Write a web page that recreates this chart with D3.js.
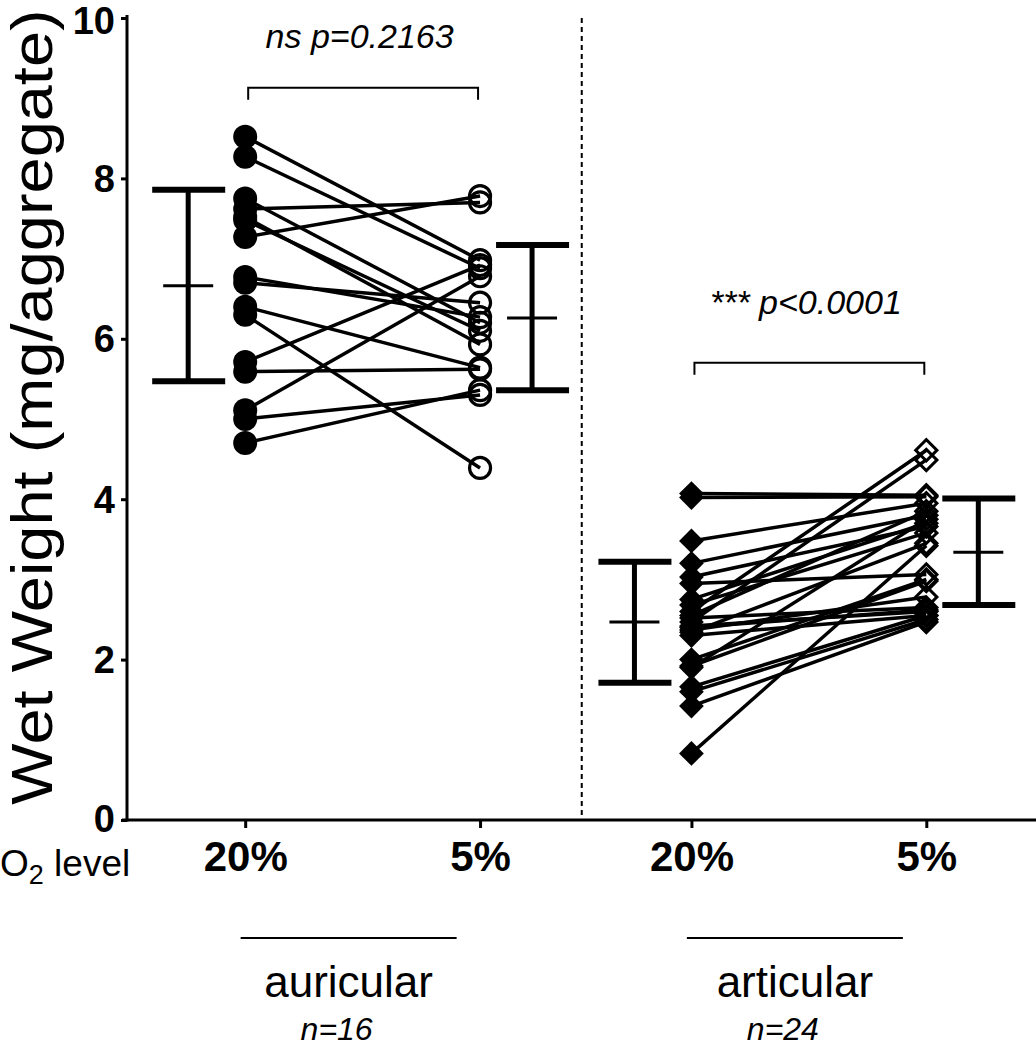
<!DOCTYPE html>
<html><head><meta charset="utf-8">
<script src="https://cdn.jsdelivr.net/npm/d3@7"></script>
<style>body{margin:0;background:#fff}svg{display:block}</style>
</head><body>
<svg id="c" width="1036" height="1050"></svg>
<script>
// ---------- data ----------
const groups = ["auricular", "articular"];
const o2Levels = ["20%", "5%"];
const groupN = ["n=16", "n=24"];
const yTicks = [0, 2, 4, 6, 8, 10];
const yLabel = "Wet Weight (mg/aggregate)";
const pLabels = ["ns p=0.2163", "*** p<0.0001"];
const bracketLevels = [9.13, 5.70];

// paired values: index i at 20% is joined to index i at 5%
const auricular20 = [8.52, 8.27, 7.75, 7.62, 7.52, 7.48, 7.27, 6.77, 6.70, 6.40, 6.30, 5.71, 5.59, 5.11, 5.00, 4.70];
const auricular5  = [6.98, 6.88, 6.20, 7.70, 5.93, 6.10, 7.78, 6.27, 6.45, 5.64, 4.39, 6.92, 5.62, 6.78, 5.30, 5.36];
const articular20 = [4.07, 4.02, 3.48, 3.20, 3.03, 2.95, 2.75, 2.68, 2.60, 2.52, 2.47, 2.42, 2.40, 2.37, 2.34, 2.30, 2.00, 1.92, 1.90, 1.66, 1.60, 1.42, 0.83, 2.55];
const articular5  = [4.05, 4.03, 3.95, 3.80, 3.66, 3.06, 3.70, 3.58, 4.61, 2.65, 4.49, 2.60, 2.62, 2.78, 3.45, 2.55, 3.00, 2.98, 3.75, 2.55, 2.50, 2.47, 3.42, 3.85];

// mean with SD bars: [low, mean, high]
const auricular20Bar = [5.47, 6.66, 7.86];
const auricular5Bar  = [5.36, 6.26, 7.17];
const articular20Bar = [1.71, 2.47, 3.22];
const articular5Bar  = [2.68, 3.34, 4.01];

// ---------- build ----------
const sets = [
  {group: "auricular", a: auricular20, b: auricular5, barA: auricular20Bar, barB: auricular5Bar, shape: "circle"},
  {group: "articular", a: articular20, b: articular5, barA: articular20Bar, barB: articular5Bar, shape: "diamond"}
];

const svg = d3.select("#c");
const FONT = "'Liberation Sans', Arial, Helvetica, sans-serif";

const y = d3.scaleLinear().domain([0, 10]).range([820, 18]);
const outer = d3.scaleBand().domain(groups).range([139.5, 1032]).paddingInner(0).paddingOuter(0);
const inner = d3.scalePoint().domain(o2Levels).range([0, outer.bandwidth()]).padding(0.45);
const xPos = (g, lvl) => outer(g) + inner(lvl);

// dashed separator between groups
svg.append("line")
  .attr("x1", outer("articular") - 4).attr("x2", outer("articular") - 4)
  .attr("y1", y(10)).attr("y2", y(0))
  .attr("stroke", "#000").attr("stroke-width", 2).attr("stroke-dasharray", "5,4");

// y axis
const yAxis = d3.axisLeft(y).tickValues(yTicks).tickSize(6).tickSizeOuter(0).tickPadding(6).tickFormat(d3.format("d"));
const gy = svg.append("g").attr("transform", "translate(127,0)").call(yAxis);
gy.select(".domain").attr("stroke-width", 3).attr("d", `M0,${y(10) - 3}V${y(0) + 1.5}`);
gy.selectAll(".tick line").attr("stroke-width", 3);
gy.selectAll(".tick text").attr("font-family", FONT).attr("font-weight", "bold").attr("font-size", 38).attr("fill", "#000")
  .attr("dy", d => d === 10 ? "0.42em" : (d === 0 ? "0.3em" : "0.34em"));

// x axis
const xKeys = [];
groups.forEach(g => o2Levels.forEach(l => xKeys.push(g + "|" + l)));
const xOrd = d3.scaleOrdinal().domain(xKeys).range(xKeys.map(k => { const [g, l] = k.split("|"); return xPos(g, l); }));
const xAxis = d3.axisBottom(xOrd).tickValues(xKeys).tickSize(8).tickSizeOuter(0).tickPadding(13).tickFormat(d => d.split("|")[1]);
const gx = svg.append("g").attr("transform", `translate(0,${y(0)})`).call(xAxis);
gx.select(".domain").attr("d", "M122,0H1036").attr("stroke-width", 3);
gx.selectAll(".tick line").attr("stroke-width", 3);
gx.selectAll(".tick text").attr("font-family", FONT).attr("font-weight", "bold").attr("font-size", 42).attr("fill", "#000");

// O2 level label
const o2 = svg.append("text").attr("x", 0).attr("y", 876).attr("font-family", FONT).attr("font-size", 37).attr("fill", "#000");
o2.append("tspan").text("O");
o2.append("tspan").attr("font-size", 27).attr("dy", 8).text("2");
o2.append("tspan").attr("dy", -8).text(" level");

// y label (stretched along its length as in the reference)
svg.append("text")
  .attr("transform", `translate(52,407) rotate(-90) scale(1.12,1)`)
  .attr("text-anchor", "middle").attr("font-family", FONT).attr("font-size", 58).attr("fill", "#000")
  .text(yLabel);

// paired lines + markers
sets.forEach(s => {
  const xa = xPos(s.group, "20%"), xb = xPos(s.group, "5%");
  const pairs = s.a.map((v, i) => [v, s.b[i]]);
  svg.append("g").selectAll("line").data(pairs).join("line")
    .attr("x1", xa).attr("x2", xb)
    .attr("y1", d => y(d[0])).attr("y2", d => y(d[1]))
    .attr("stroke", "#000").attr("stroke-width", 3.5);
  const gm = svg.append("g");
  if (s.shape === "circle") {
    gm.selectAll(".fa").data(s.a).join("circle").attr("cx", xa).attr("cy", d => y(d)).attr("r", 12).attr("fill", "#000");
    gm.selectAll(".ob").data(s.b).join("circle").attr("cx", xb).attr("cy", d => y(d)).attr("r", 10.5).attr("fill", "none").attr("stroke", "#000").attr("stroke-width", 3.2);
  } else {
    gm.selectAll(".fa").data(s.a).join("path").attr("d", d3.symbol().type(d3.symbolSquare).size(17.5 * 17.5))
      .attr("transform", d => `translate(${xa},${y(d)}) rotate(45)`).attr("fill", "#000");
    gm.selectAll(".ob").data(s.b).join("path").attr("d", d3.symbol().type(d3.symbolSquare).size(15 * 15))
      .attr("transform", d => `translate(${xb},${y(d)}) rotate(45)`).attr("fill", "none").attr("stroke", "#000").attr("stroke-width", 3);
  }

  // mean +/- SD bars
  [[s.barA, xa - 57], [s.barB, xb + 52]].forEach(([b, bx]) => {
    const g = svg.append("g").attr("stroke", "#000");
    g.append("line").attr("x1", bx).attr("x2", bx).attr("y1", y(b[0])).attr("y2", y(b[2])).attr("stroke-width", 5);
    g.append("line").attr("x1", bx - 36).attr("x2", bx + 37).attr("y1", y(b[0])).attr("y2", y(b[0])).attr("stroke-width", 6);
    g.append("line").attr("x1", bx - 36).attr("x2", bx + 37).attr("y1", y(b[2])).attr("y2", y(b[2])).attr("stroke-width", 6);
    g.append("line").attr("x1", bx - 25).attr("x2", bx + 25).attr("y1", y(b[1])).attr("y2", y(b[1])).attr("stroke-width", 3);
  });
});

// significance brackets
groups.forEach((g, i) => {
  const xa = xPos(g, "20%"), xb = xPos(g, "5%"), by = y(bracketLevels[i]);
  svg.append("path").attr("d", `M${xa + 3},${by + 12}V${by}H${xb - 2}V${by + 12}`)
    .attr("fill", "none").attr("stroke", "#000").attr("stroke-width", 2);
  svg.append("text").attr("x", (xa + xb) / 2 - 3).attr("y", by - (i === 0 ? 40 : 49))
    .attr("text-anchor", "middle").attr("font-family", FONT).attr("font-style", "italic").attr("font-size", 34).attr("fill", "#000")
    .text(pLabels[i]);
});

// group labels below axis
groups.forEach((g, i) => {
  const cx = outer(g) + outer.bandwidth() / 2 - 14;
  svg.append("line").attr("x1", cx - 108).attr("x2", cx + 108).attr("y1", 938).attr("y2", 938).attr("stroke", "#000").attr("stroke-width", 2);
  svg.append("text").attr("x", cx).attr("y", 997).attr("text-anchor", "middle").attr("font-family", FONT).attr("font-size", 44).attr("fill", "#000").text(g);
  svg.append("text").attr("x", cx - 12).attr("y", 1040).attr("text-anchor", "middle").attr("font-family", FONT).attr("font-style", "italic").attr("font-size", 32).attr("fill", "#000").text(groupN[i]);
});
</script>
</body></html>
